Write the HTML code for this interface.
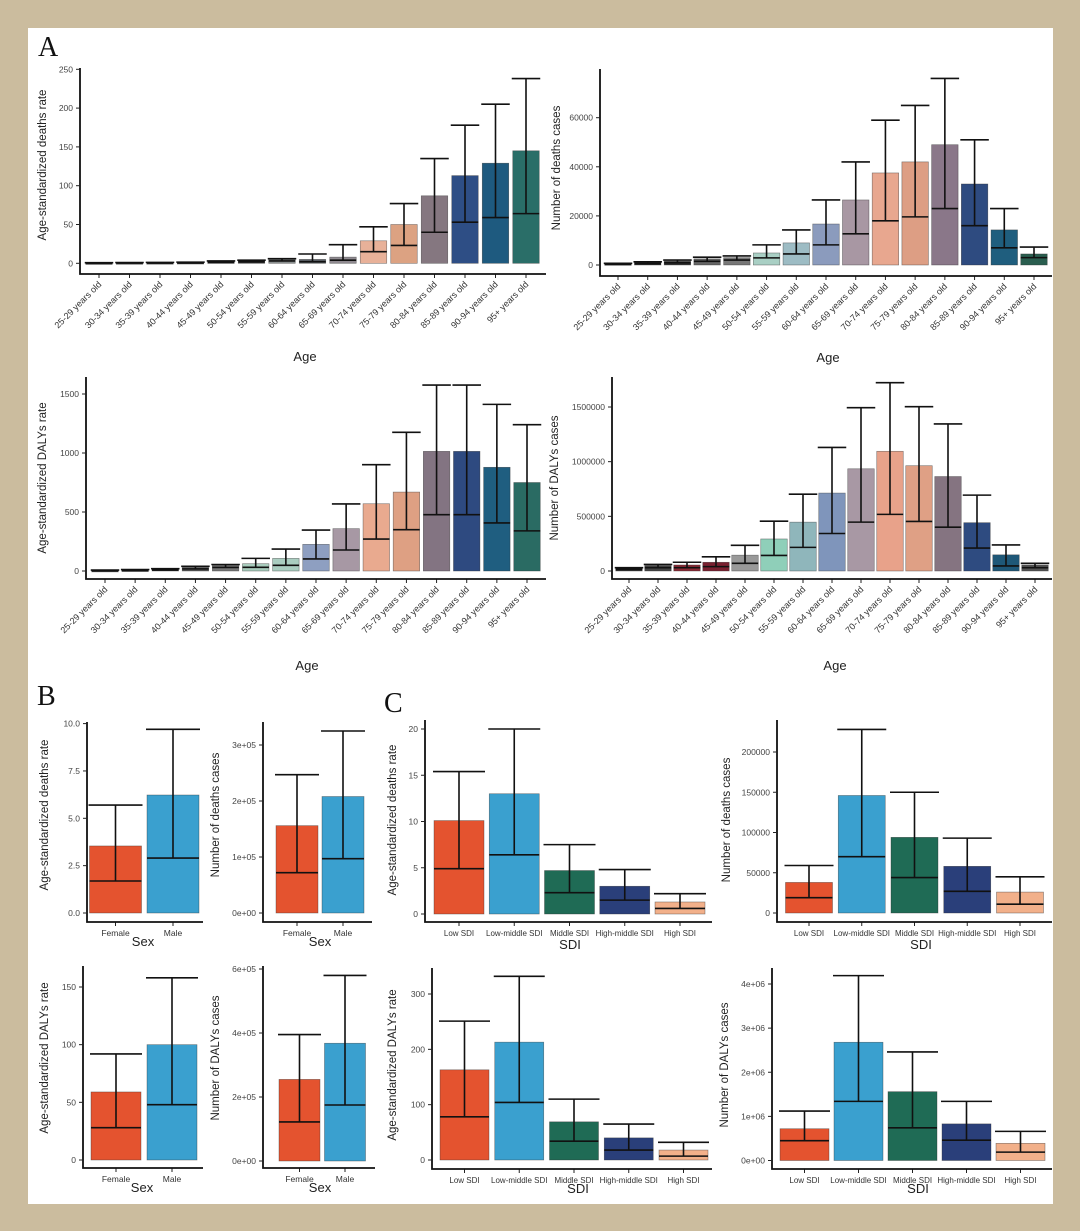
<!DOCTYPE html>
<html><head><meta charset="utf-8">
<style>
html,body{margin:0;padding:0;background:#cbbc9e;}
svg{display:block;font-family:"Liberation Sans",sans-serif;}
</style></head>
<body>
<svg id="fig" width="1080" height="1231" viewBox="0 0 1080 1231" xmlns="http://www.w3.org/2000/svg">
<rect x="0" y="0" width="1080" height="1231" fill="#cbbc9e"/>
<rect x="28" y="28" width="1025" height="1176" fill="#ffffff"/>
<text x="38" y="56" font-family="Liberation Serif,serif" font-size="28" fill="#111">A</text>
<text x="37" y="705" font-family="Liberation Serif,serif" font-size="28" fill="#111">B</text>
<text x="384" y="712" font-family="Liberation Serif,serif" font-size="28" fill="#111">C</text>
</svg>
<script>
const ageCats = ["25-29 years old","30-34 years old","35-39 years old","40-44 years old","45-49 years old","50-54 years old","55-59 years old","60-64 years old","65-69 years old","70-74 years old","75-79 years old","80-84 years old","85-89 years old","90-94 years old","95+ years old"];
const sexCats = ["Female","Male"];
const sdiCats = ["Low SDI","Low-middle SDI","Middle SDI","High-middle SDI","High SDI"];

// Panel A1: age-standardized deaths rate
const a1Val = [0.5,0.7,0.8,1,2,3,5,5,8,29,50,87,113,129,145];
const a1Low = [0.3,0.4,0.5,0.6,1,2,3,2,4,15,23,40,53,59,64];
const a1Up  = [0.8,1,1.2,1.5,3,4,6,12,24,47,77,135,178,205,238];
const a1Ticks = [0,50,100,150,200,250];
// Panel A2: number of deaths cases
const a2Val = [500,1000,1500,2500,3000,4900,9000,16700,26500,37500,42000,49000,33000,14300,4500];
const a2Low = [300,600,900,1500,2000,2900,4500,8200,12700,18000,19600,23000,16000,7000,3000];
const a2Up  = [700,1300,2000,3200,3700,8200,14300,26500,42000,59000,65000,76000,51000,23000,7300];
const a2Ticks = [0,20000,40000,60000];
// Panel A3: age-standardized DALYs rate
const a3Val = [5,8,15,30,51,62,107,226,359,570,669,1014,1014,879,750];
const a3Low = [3,5,9,18,30,31,48,102,178,271,350,477,477,407,340];
const a3Up  = [8,12,20,40,55,107,186,347,568,901,1175,1576,1576,1412,1240];
const a3Ticks = [0,500,1000,1500];
// Panel A4: number of DALYs cases
const a4Val = [25000,50000,55000,80000,145000,293000,447000,713000,935000,1095000,963000,864000,442000,148000,55000];
const a4Low = [15000,30000,30000,40000,70000,142000,216000,343000,447000,518000,453000,401000,210000,46000,30000];
const a4Up  = [30000,60000,80000,130000,235000,456000,703000,1130000,1494000,1722000,1503000,1345000,694000,238000,70000];
const a4Ticks = [0,500000,1000000,1500000];
// Panel B
const b1Val = [3.54,6.23]; const b1Low = [1.69,2.9]; const b1Up = [5.7,9.7];
const b1Ticks = [0,2.5,5,7.5,10]; const b1TickLabels = ["0.0","2.5","5.0","7.5","10.0"];
const b2Val = [156000,208000]; const b2Low = [72000,97000]; const b2Up = [247000,325000];
const b2Ticks = [0,100000,200000,300000]; const b2TickLabels = ["0e+00","1e+05","2e+05","3e+05"];
const b3Val = [59,100]; const b3Low = [28,48]; const b3Up = [92,158];
const b3Ticks = [0,50,100,150];
const b4Val = [255000,368000]; const b4Low = [122000,175000]; const b4Up = [395000,580000];
const b4Ticks = [0,200000,400000,600000]; const b4TickLabels = ["0e+00","2e+05","4e+05","6e+05"];
// Panel C
const c1Val = [10.1,13.0,4.7,3.0,1.3]; const c1Low = [4.9,6.4,2.3,1.5,0.6]; const c1Up = [15.4,20,7.5,4.8,2.2];
const c1Ticks = [0,5,10,15,20];
const c2Val = [38000,146000,94000,58000,26000]; const c2Low = [19000,70000,44000,27000,11000]; const c2Up = [59000,228000,150000,93000,45000];
const c2Ticks = [0,50000,100000,150000,200000];
const c3Val = [163,213,69,40,18]; const c3Low = [78,104,34,18,7]; const c3Up = [251,332,110,65,32];
const c3Ticks = [0,100,200,300];
const c4Val = [720000,2680000,1560000,830000,390000]; const c4Low = [450000,1340000,740000,460000,190000]; const c4Up = [1120000,4190000,2460000,1340000,660000];
const c4Ticks = [0,1000000,2000000,3000000,4000000]; const c4TickLabels = ["0e+00","1e+06","2e+06","3e+06","4e+06"];

const NS = "http://www.w3.org/2000/svg";
const svg = document.getElementById("fig");
function mk(tag, attrs, parent){
  const e = document.createElementNS(NS, tag);
  for (const k in attrs) e.setAttribute(k, attrs[k]);
  (parent||svg).appendChild(e);
  return e;
}
const colA1 = ["#333","#333","#333","#333","#333","#333","#8a8f8f","#555a60","#8f8a90","#e8b199","#dca282","#857780","#2e4e85","#1e5a7f","#2a6e68"];
const colA2 = ["#333","#333","#333","#666","#777","#a9cfc4","#9dbcc4","#8b9bbd","#a897a3","#e8a78f","#dd9e84","#8a7789","#2e4b80","#1f5e7e","#2a5e4f"];
const colA3 = ["#333","#333","#333","#555","#777","#a8cbbc","#a9cdc0","#8e9fc1","#a798a4","#e9aa8f","#dea083","#837482","#2e4a80","#1f5e80","#2a6b63"];
const colA4 = ["#333","#444","#8a2a35","#7a2030","#999","#8fcfb9","#8fb6bb","#7f95bb","#a898a4","#e8a28a","#dfa085","#857481","#2e4b80","#1e5878","#555"];
const colSex = ["#e4532f","#3aa0cf"];
const colSdi = ["#e4532f","#3aa0cf","#1f6b55","#2a3f7a","#f2b08a"];

function panel(g){
  const grp = mk("g", {});
  
  
  const n = g.cats.length;
  const ys = v => g.zeroPx - (v / g.refVal) * (g.zeroPx - g.refPx);
  const xs = i => n === 1 ? g.firstCx : g.firstCx + i * (g.lastCx - g.firstCx) / (n - 1);
  // bars
  for (let i = 0; i < n; i++){
    const cx = xs(i), top = ys(g.val[i]), base = ys(0);
    const bw = g.barW;
    const b = mk("rect", {x: cx - bw/2, y: Math.min(top, base), width: bw, height: Math.max(1.5, Math.abs(base - top)), fill: g.colors[i], stroke: "#333", "stroke-width": 0.6, "stroke-opacity": 0.6}, grp);
    
    
    const lowY = ys(g.low[i]), upY = ys(g.up[i]);
    const el = mk("path", {d: `M${cx-bw/2},${lowY}H${cx+bw/2}M${cx},${lowY}V${upY}M${cx-bw/2-1},${upY}H${cx+bw/2+1}`, stroke: "#111", "stroke-width": 1.6, fill: "none"}, grp);
    
    
    // x tick
    const t = mk("line", {x1: cx, x2: cx, y1: g.axisY, y2: g.axisY + 4, stroke: "#222", "stroke-width": 1}, grp);
    
    
    let lab;
    if (g.rot){
      lab = mk("text", {x: cx + 3, y: g.axisY + 11, "text-anchor": "end", "font-size": 9, fill: "#333", transform: `rotate(-45 ${cx + 3} ${g.axisY + 11})`}, grp);
    } else {
      lab = mk("text", {x: cx, y: g.axisY + 14, "text-anchor": "middle", "font-size": g.xfs || 9, fill: "#333"}, grp);
    }
    lab.textContent = g.cats[i];
    
    
  }
  // axes
  const ax = mk("path", {d: `M${g.axisX},${g.plotTop}V${g.axisY}H${g.plotRight}`, stroke: "#111", "stroke-width": 1.8, fill: "none"}, grp);
  
  
  g.ticks.forEach((v, k) => {
    const y = ys(v);
    const tl = mk("line", {x1: g.axisX - 4, x2: g.axisX, y1: y, y2: y, stroke: "#222", "stroke-width": 1}, grp);
    
    
    const tx = mk("text", {x: g.axisX - 7, y: y + 3, "text-anchor": "end", "font-size": 8.5, fill: "#444"}, grp);
    tx.textContent = g.tickLabels ? g.tickLabels[k] : String(v);
    
    
  });
  const yt = mk("text", {x: g.ytX, y: g.ytY, "text-anchor": "middle", "font-size": 11.5, fill: "#222", transform: `rotate(-90 ${g.ytX} ${g.ytY})`}, grp);
  yt.textContent = g.ytitle;
  
  
  const xt = mk("text", {x: g.xtX, y: g.xtY, "text-anchor": "middle", "font-size": 13, fill: "#222"}, grp);
  xt.textContent = g.xtitle;
  
  
}

panel({name:"panel-a1-deaths-rate", cats:ageCats, val:a1Val, low:a1Low, up:a1Up, ticks:a1Ticks, colors:colA1,
  axisX:80, axisY:274, plotTop:68, plotRight:546, zeroPx:263.3, refVal:250, refPx:69.3, firstCx:99, lastCx:526, barW:26.5, rot:true,
  ytitle:"Age-standardized deaths rate", ytX:46, ytY:165, xtitle:"Age", xtX:305, xtY:361});
panel({name:"panel-a2-deaths-cases", cats:ageCats, val:a2Val, low:a2Low, up:a2Up, ticks:a2Ticks, colors:colA2,
  axisX:600, axisY:276, plotTop:69, plotRight:1052, zeroPx:265, refVal:60000, refPx:117.7, firstCx:618, lastCx:1034, barW:26.5, rot:true,
  ytitle:"Number of deaths cases", ytX:560, ytY:168, xtitle:"Age", xtX:828, xtY:362});
panel({name:"panel-a3-dalys-rate", cats:ageCats, val:a3Val, low:a3Low, up:a3Up, ticks:a3Ticks, colors:colA3,
  axisX:86, axisY:579, plotTop:377, plotRight:546, zeroPx:571, refVal:1500, refPx:394, firstCx:105, lastCx:527, barW:26.5, rot:true,
  ytitle:"Age-standardized DALYs rate", ytX:46, ytY:478, xtitle:"Age", xtX:307, xtY:670});
panel({name:"panel-a4-dalys-cases", cats:ageCats, val:a4Val, low:a4Low, up:a4Up, ticks:a4Ticks, colors:colA4,
  axisX:612, axisY:579, plotTop:377, plotRight:1052, zeroPx:571, refVal:1500000, refPx:407, firstCx:629, lastCx:1035, barW:26.5, rot:true,
  ytitle:"Number of DALYs cases", ytX:558, ytY:478, xtitle:"Age", xtX:835, xtY:670});

panel({name:"panel-b1-deaths-rate", cats:sexCats, val:b1Val, low:b1Low, up:b1Up, ticks:b1Ticks, tickLabels:b1TickLabels, colors:colSex,
  axisX:87, axisY:922, plotTop:722, plotRight:203, zeroPx:913, refVal:10, refPx:723.6, firstCx:115.5, lastCx:173, barW:52, xfs:8.5,
  ytitle:"Age-standardized deaths rate", ytX:48, ytY:815, xtitle:"Sex", xtX:143, xtY:946});
panel({name:"panel-b2-deaths-cases", cats:sexCats, val:b2Val, low:b2Low, up:b2Up, ticks:b2Ticks, tickLabels:b2TickLabels, colors:colSex,
  axisX:263, axisY:922, plotTop:722, plotRight:372, zeroPx:913, refVal:300000, refPx:745, firstCx:297, lastCx:343, barW:42, xfs:8.5,
  ytitle:"Number of deaths cases", ytX:219, ytY:815, xtitle:"Sex", xtX:320, xtY:946});
panel({name:"panel-b3-dalys-rate", cats:sexCats, val:b3Val, low:b3Low, up:b3Up, ticks:b3Ticks, colors:colSex,
  axisX:83, axisY:1168, plotTop:966, plotRight:203, zeroPx:1160, refVal:150, refPx:987, firstCx:116, lastCx:172, barW:50, xfs:8.5,
  ytitle:"Age-standardized DALYs rate", ytX:48, ytY:1058, xtitle:"Sex", xtX:142, xtY:1192});
panel({name:"panel-b4-dalys-cases", cats:sexCats, val:b4Val, low:b4Low, up:b4Up, ticks:b4Ticks, tickLabels:b4TickLabels, colors:colSex,
  axisX:263, axisY:1168, plotTop:966, plotRight:375, zeroPx:1161, refVal:600000, refPx:969, firstCx:299.5, lastCx:345, barW:41, xfs:8.5,
  ytitle:"Number of DALYs cases", ytX:219, ytY:1058, xtitle:"Sex", xtX:320, xtY:1192});

panel({name:"panel-c1-deaths-rate", cats:sdiCats, val:c1Val, low:c1Low, up:c1Up, ticks:c1Ticks, colors:colSdi,
  axisX:425, axisY:922, plotTop:720, plotRight:712, zeroPx:914, refVal:20, refPx:729, firstCx:459, lastCx:680, barW:50, xfs:8,
  ytitle:"Age-standardized deaths rate", ytX:396, ytY:820, xtitle:"SDI", xtX:570, xtY:949});
panel({name:"panel-c2-deaths-cases", cats:sdiCats, val:c2Val, low:c2Low, up:c2Up, ticks:c2Ticks, colors:colSdi,
  axisX:777, axisY:922, plotTop:720, plotRight:1052, zeroPx:913, refVal:200000, refPx:752, firstCx:809, lastCx:1020, barW:47, xfs:8,
  ytitle:"Number of deaths cases", ytX:730, ytY:820, xtitle:"SDI", xtX:921, xtY:949});
panel({name:"panel-c3-dalys-rate", cats:sdiCats, val:c3Val, low:c3Low, up:c3Up, ticks:c3Ticks, colors:colSdi,
  axisX:432, axisY:1169, plotTop:968, plotRight:712, zeroPx:1160, refVal:300, refPx:994, firstCx:464.5, lastCx:683.5, barW:49, xfs:8,
  ytitle:"Age-standardized DALYs rate", ytX:396, ytY:1065, xtitle:"SDI", xtX:578, xtY:1193});
panel({name:"panel-c4-dalys-cases", cats:sdiCats, val:c4Val, low:c4Low, up:c4Up, ticks:c4Ticks, tickLabels:c4TickLabels, colors:colSdi,
  axisX:772, axisY:1169, plotTop:968, plotRight:1052, zeroPx:1160.5, refVal:4000000, refPx:984, firstCx:804.5, lastCx:1020.5, barW:49, xfs:8,
  ytitle:"Number of DALYs cases", ytX:728, ytY:1065, xtitle:"SDI", xtX:918, xtY:1193});
</script>
</body></html>
